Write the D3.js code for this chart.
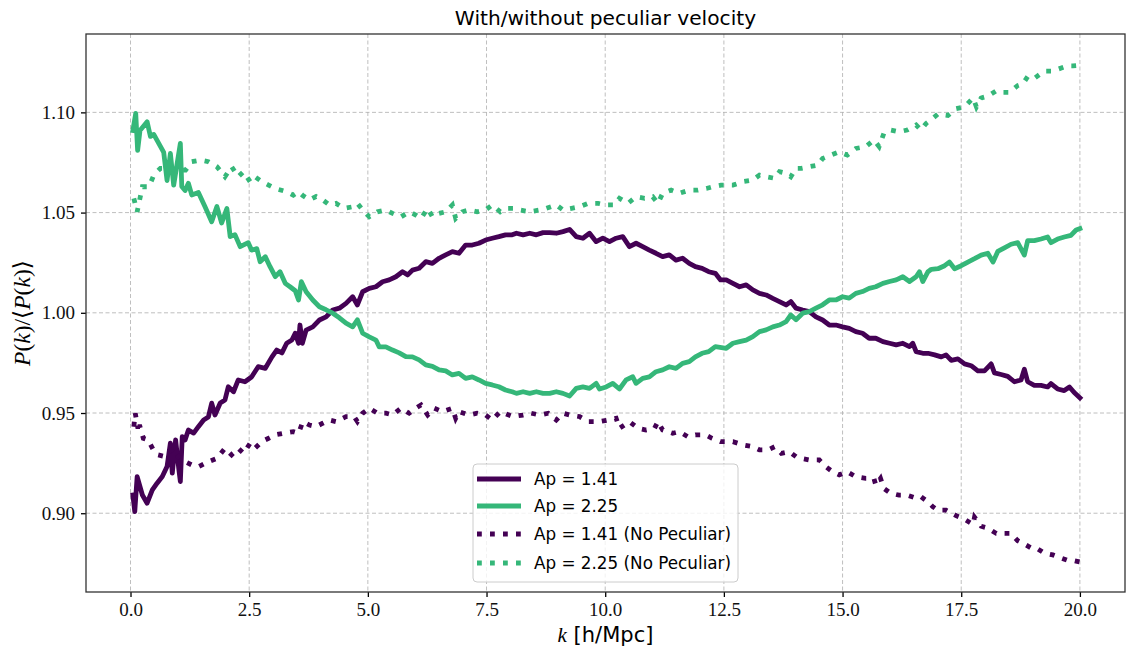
<!DOCTYPE html>
<html>
<head>
<meta charset="utf-8">
<script src="https://cdn.jsdelivr.net/npm/d3@7"></script>
<style>
  body { margin: 0; background: #fff; }
  svg { display: block; }
</style>
</head>
<body>
<div id="chart"></div>
<script>
// [k, P/<P>]
var ap141 = [
  [0.05,0.9091],[0.09,0.9008],[0.14,0.9183],[0.25,0.9091],[0.35,0.905],[0.46,0.9116],[0.56,0.915],[0.67,0.9183],
  [0.77,0.9233],[0.84,0.935],[0.88,0.92],[0.95,0.9366],[1.02,0.9216],[1.05,0.9158],[1.09,0.9382],[1.15,0.9366],
  [1.22,0.9415],[1.33,0.94],[1.43,0.9432],[1.54,0.9465],[1.64,0.948],[1.71,0.9549],[1.78,0.949],[1.89,0.955],
  [1.99,0.9565],[2.06,0.9631],[2.17,0.9606],[2.27,0.9665],[2.41,0.9656],[2.55,0.968],[2.69,0.9731],[2.84,0.9723],
  [2.98,0.978],[3.08,0.9814],[3.19,0.98],[3.29,0.9848],[3.4,0.9864],[3.47,0.9898],[3.54,0.9848],[3.57,0.9939],
  [3.62,0.9848],[3.7,0.9914],[3.84,0.993],[3.98,0.9964],[4.12,0.998],[4.26,1.0014],[4.4,1.0023],[4.54,1.0047],
  [4.68,1.008],[4.78,1.0039],[4.89,1.0105],[5.03,1.0122],[5.17,1.013],[5.31,1.0155],[5.45,1.0164],[5.59,1.018],
  [5.73,1.0205],[5.84,1.0189],[5.94,1.0213],[6.08,1.0222],[6.22,1.0255],[6.36,1.0247],[6.5,1.0272],[6.64,1.0289],
  [6.78,1.0305],[6.92,1.0297],[7.06,1.0338],[7.2,1.0338],[7.34,1.0347],[7.48,1.0363],[7.62,1.0372],[7.76,1.038],
  [7.9,1.0389],[8.04,1.0389],[8.13,1.0397],[8.27,1.0389],[8.41,1.0397],[8.55,1.0389],[8.69,1.04],[8.83,1.04],
  [8.97,1.0397],[9.11,1.0405],[9.25,1.0416],[9.39,1.038],[9.53,1.0372],[9.67,1.0397],[9.81,1.0355],[9.95,1.0372],
  [10.09,1.0355],[10.23,1.0372],[10.37,1.038],[10.51,1.033],[10.65,1.0347],[10.79,1.033],[10.93,1.0313],[11.07,1.0297],
  [11.21,1.028],[11.35,1.0289],[11.49,1.0263],[11.63,1.0272],[11.77,1.0247],[11.9,1.023],[12.04,1.0222],[12.18,1.0205],
  [12.32,1.0197],[12.43,1.0164],[12.55,1.0164],[12.69,1.0147],[12.83,1.013],[12.97,1.0139],[13.11,1.0114],[13.25,1.0097],
  [13.39,1.0089],[13.53,1.0072],[13.67,1.0056],[13.81,1.0039],[13.91,1.0056],[14.02,1.0023],[14.16,1.0014],[14.3,1.0006],
  [14.44,0.998],[14.58,0.9964],[14.72,0.9939],[14.86,0.9939],[15.0,0.993],[15.14,0.9922],[15.28,0.9906],[15.42,0.9898],
  [15.56,0.9873],[15.7,0.9873],[15.85,0.9856],[15.99,0.9848],[16.13,0.984],[16.27,0.9848],[16.41,0.9831],[16.48,0.9848],
  [16.55,0.9806],[16.69,0.9798],[16.8,0.9798],[16.94,0.979],[17.08,0.978],[17.18,0.979],[17.29,0.9763],[17.43,0.977],
  [17.57,0.9745],[17.71,0.9736],[17.85,0.971],[17.99,0.971],[18.13,0.9745],[18.2,0.97],[18.34,0.9692],[18.48,0.9683],
  [18.62,0.9656],[18.76,0.9665],[18.83,0.9718],[18.9,0.9656],[19.04,0.9638],[19.18,0.9638],[19.32,0.963],[19.39,0.9647],
  [19.53,0.962],[19.67,0.9612],[19.78,0.963],[19.88,0.9602],[20.0,0.9576]
];

var ap225 = [
  [0.05,1.091],[0.11,1.0995],[0.15,1.081],[0.2,1.091],[0.35,1.0953],[0.42,1.088],[0.49,1.089],[0.56,1.086],
  [0.63,1.083],[0.7,1.08],[0.77,1.066],[0.84,1.0795],[0.91,1.0637],[1.05,1.0845],[1.08,1.063],[1.15,1.061],
  [1.22,1.0646],[1.29,1.0588],[1.43,1.06],[1.57,1.0529],[1.71,1.0454],[1.82,1.053],[1.92,1.0448],[2.03,1.052],
  [2.1,1.038],[2.2,1.039],[2.31,1.033],[2.48,1.035],[2.55,1.0313],[2.66,1.032],[2.73,1.0255],[2.84,1.028],
  [2.94,1.023],[3.05,1.018],[3.15,1.0205],[3.26,1.0147],[3.36,1.013],[3.47,1.011],[3.54,1.0064],[3.6,1.0155],
  [3.7,1.0105],[3.84,1.0064],[3.98,1.003],[4.12,1.0015],[4.26,0.9998],[4.4,0.9975],[4.54,0.9948],[4.68,0.993],
  [4.78,0.9965],[4.89,0.9898],[5.03,0.988],[5.17,0.9864],[5.24,0.983],[5.38,0.983],[5.52,0.9814],[5.66,0.98],
  [5.8,0.9781],[5.94,0.978],[6.08,0.9765],[6.22,0.974],[6.36,0.9733],[6.5,0.9715],[6.64,0.971],[6.78,0.969],
  [6.92,0.9698],[7.06,0.9673],[7.2,0.968],[7.34,0.9665],[7.48,0.9648],[7.62,0.964],[7.76,0.9631],[7.9,0.9615],
  [8.04,0.9606],[8.13,0.9598],[8.27,0.9606],[8.41,0.9598],[8.55,0.9606],[8.69,0.9598],[8.83,0.9598],[8.97,0.9606],
  [9.11,0.9598],[9.25,0.9585],[9.39,0.9623],[9.53,0.963],[9.67,0.9623],[9.81,0.9648],[9.88,0.962],[10.02,0.963],
  [10.16,0.9648],[10.3,0.962],[10.44,0.9665],[10.58,0.9681],[10.65,0.9648],[10.79,0.9673],[10.93,0.968],[11.07,0.9706],
  [11.21,0.9715],[11.35,0.9731],[11.49,0.9723],[11.63,0.9748],[11.77,0.9756],[11.9,0.978],[12.04,0.9798],[12.18,0.9806],
  [12.32,0.9831],[12.55,0.9823],[12.69,0.9848],[12.83,0.9856],[12.97,0.9864],[13.11,0.9881],[13.25,0.9906],[13.39,0.9915],
  [13.53,0.993],[13.67,0.9939],[13.81,0.9956],[13.91,0.9989],[14.02,0.9965],[14.16,0.9998],[14.3,1.0006],[14.44,1.0023],
  [14.58,1.004],[14.72,1.0064],[14.86,1.0064],[15.0,1.008],[15.14,1.0073],[15.28,1.0097],[15.42,1.0106],[15.56,1.0122],
  [15.7,1.013],[15.85,1.0147],[15.99,1.0156],[16.13,1.0164],[16.27,1.018],[16.41,1.0156],[16.55,1.018],[16.62,1.0205],
  [16.69,1.0156],[16.8,1.0205],[16.87,1.0217],[17.01,1.022],[17.15,1.0235],[17.25,1.0253],[17.36,1.022],[17.5,1.0235],
  [17.64,1.0253],[17.78,1.027],[17.92,1.0288],[18.06,1.0297],[18.17,1.0253],[18.27,1.0306],[18.41,1.0324],[18.55,1.0342],
  [18.69,1.035],[18.83,1.0288],[18.9,1.036],[19.04,1.036],[19.18,1.0368],[19.32,1.0378],[19.39,1.035],[19.53,1.0368],
  [19.67,1.0378],[19.81,1.0386],[19.92,1.0413],[20.0,1.042]
];

var ap141NoPec = [
  [0.07,0.9432],[0.1,0.9499],[0.15,0.9432],[0.2,0.9432],[0.27,0.9374],[0.37,0.9366],[0.48,0.9316],[0.58,0.9291],
  [0.72,0.9283],[0.9,0.9324],[1.0,0.9283],[1.15,0.9257],[1.29,0.9241],[1.43,0.9232],[1.64,0.9257],[1.82,0.9274],
  [1.99,0.9324],[2.13,0.9291],[2.27,0.9324],[2.38,0.9299],[2.52,0.9349],[2.62,0.9324],[2.77,0.9358],[2.91,0.9374],
  [3.05,0.9391],[3.22,0.9399],[3.43,0.9407],[3.54,0.9399],[3.63,0.9457],[3.77,0.944],[3.91,0.9432],[4.05,0.9449],
  [4.19,0.9465],[4.33,0.9457],[4.54,0.9482],[4.71,0.9482],[4.78,0.9457],[4.89,0.9499],[5.03,0.9524],[5.2,0.9499],
  [5.38,0.9499],[5.52,0.949],[5.7,0.9524],[5.87,0.9499],[6.01,0.9524],[6.12,0.954],[6.26,0.949],[6.4,0.9524],
  [6.57,0.9507],[6.78,0.9524],[6.85,0.9474],[6.92,0.9507],[7.13,0.949],[7.3,0.9499],[7.48,0.949],[7.62,0.9465],
  [7.79,0.9507],[7.97,0.949],[8.06,0.9482],[8.27,0.949],[8.44,0.9499],[8.62,0.949],[8.8,0.9499],[8.97,0.9465],
  [9.11,0.9499],[9.25,0.949],[9.46,0.9482],[9.64,0.9457],[9.88,0.9457],[10.06,0.9465],[10.23,0.9474],[10.3,0.9424],
  [10.51,0.9457],[10.69,0.9424],[10.86,0.9415],[11.04,0.9424],[11.11,0.9457],[11.21,0.9415],[11.42,0.9399],[11.56,0.9407],
  [11.74,0.9382],[11.9,0.9391],[12.11,0.9391],[12.25,0.9374],[12.43,0.9357],[12.69,0.9357],[12.9,0.9341],[13.11,0.9332],
  [13.25,0.9316],[13.43,0.9316],[13.57,0.9332],[13.71,0.9299],[13.88,0.9307],[14.02,0.9282],[14.13,0.9274],[14.3,0.9266],
  [14.51,0.9266],[14.65,0.9232],[14.79,0.9207],[14.93,0.9191],[15.1,0.9207],[15.28,0.9182],[15.49,0.9174],[15.66,0.9174],
  [15.7,0.9141],[15.8,0.9174],[15.87,0.9124],[16.01,0.91],[16.19,0.909],[16.36,0.909],[16.55,0.9075],[16.65,0.9083],
  [16.79,0.9058],[16.9,0.9033],[17.01,0.9015],[17.18,0.9015],[17.39,0.8988],[17.57,0.897],[17.75,0.8944],[17.78,0.898],
  [17.92,0.8935],[18.06,0.8926],[18.24,0.8899],[18.41,0.8899],[18.55,0.8899],[18.69,0.8863],[18.83,0.8846],[18.97,0.8827],
  [19.08,0.8827],[19.25,0.8801],[19.43,0.8792],[19.53,0.8783],[19.74,0.8765],[19.85,0.8765],[20.0,0.8757]
];

var ap225NoPec = [
  [0.07,1.0571],[0.14,1.0504],[0.25,1.0629],[0.39,1.0629],[0.49,1.0687],[0.63,1.0721],[0.77,1.0721],[0.95,1.0712],
  [1.16,1.0712],[1.29,1.0754],[1.47,1.0762],[1.64,1.0754],[1.82,1.0729],[1.99,1.0679],[2.13,1.0729],[2.27,1.0679],
  [2.38,1.0704],[2.52,1.0654],[2.62,1.0679],[2.77,1.0654],[2.91,1.0637],[3.05,1.062],[3.29,1.0604],[3.43,1.0587],
  [3.54,1.0604],[3.63,1.0585],[3.77,1.0563],[3.91,1.058],[4.05,1.0563],[4.19,1.0538],[4.33,1.0546],[4.5,1.0521],
  [4.68,1.0529],[4.78,1.0546],[4.89,1.0513],[5.03,1.0479],[5.2,1.0504],[5.38,1.0513],[5.52,1.0496],[5.7,1.0479],
  [5.87,1.0504],[6.01,1.0488],[6.12,1.0471],[6.26,1.0521],[6.36,1.0479],[6.5,1.0496],[6.64,1.0504],[6.78,1.0538],
  [6.85,1.0471],[6.99,1.0504],[7.13,1.0513],[7.3,1.0504],[7.48,1.0513],[7.62,1.0538],[7.79,1.0504],[7.93,1.0521],
  [8.06,1.0521],[8.2,1.0513],[8.41,1.0504],[8.62,1.0513],[8.76,1.0521],[8.97,1.0538],[9.11,1.0513],[9.29,1.0521],
  [9.46,1.0529],[9.64,1.0546],[9.85,1.0546],[10.02,1.0538],[10.2,1.0538],[10.3,1.0571],[10.48,1.0546],[10.65,1.0579],
  [10.83,1.0571],[11.0,1.0579],[11.11,1.0546],[11.21,1.0596],[11.39,1.0612],[11.56,1.0596],[11.77,1.0612],[11.95,1.0612],
  [12.13,1.062],[12.27,1.0629],[12.44,1.0637],[12.69,1.0637],[12.9,1.0654],[13.11,1.0662],[13.25,1.0687],[13.39,1.0679],
  [13.57,1.0671],[13.67,1.0704],[13.81,1.0696],[13.91,1.0679],[14.02,1.0721],[14.13,1.0721],[14.3,1.0729],[14.48,1.0737],
  [14.58,1.077],[14.76,1.0787],[14.93,1.0803],[15.1,1.0787],[15.28,1.082],[15.49,1.0829],[15.66,1.0862],[15.77,1.0829],
  [15.87,1.0895],[16.01,1.0912],[16.19,1.0903],[16.36,1.0912],[16.55,1.0937],[16.65,1.0912],[16.76,1.0945],[16.86,1.0962],
  [17.01,1.0992],[17.22,1.0985],[17.39,1.1018],[17.57,1.1027],[17.75,1.1072],[17.82,1.1027],[17.92,1.1072],[18.06,1.1081],
  [18.24,1.1108],[18.38,1.11],[18.52,1.11],[18.69,1.1134],[18.8,1.1143],[18.9,1.1179],[19.04,1.117],[19.25,1.1206],
  [19.43,1.1206],[19.53,1.1215],[19.74,1.1232],[19.85,1.1232],[20.0,1.1235]
];

var seriesNames = ["Ap = 1.41", "Ap = 2.25", "Ap = 1.41 (No Peculiar)", "Ap = 2.25 (No Peculiar)"];
var xTicks = [0, 2.5, 5, 7.5, 10, 12.5, 15, 17.5, 20];
var yTicks = [0.90, 0.95, 1.00, 1.05, 1.10];

var purple = "#440154", green = "#35b779";
var series = [
  {name: seriesNames[0], data: ap141, color: purple, dash: null},
  {name: seriesNames[1], data: ap225, color: green, dash: null},
  {name: seriesNames[2], data: ap141NoPec, color: purple, dash: "4.8,8.2"},
  {name: seriesNames[3], data: ap225NoPec, color: green, dash: "4.8,8.2"}
];

var width = 1126, height = 655;
var mLeft = 86, mRight = 1125, mTop = 34, mBottom = 592;
var serif = "'Liberation Serif', 'DejaVu Serif', serif";
var sans = "'DejaVu Sans', 'Liberation Sans', sans-serif";

var svg = d3.select("#chart").append("svg")
    .attr("width", width)
    .attr("height", height);

var x = d3.scaleLinear().domain([-0.9375, 20.95]).range([mLeft, mRight]);
var y = d3.scaleLinear().domain([0.8607, 1.1391]).range([mBottom, mTop]);

// grid
var grid = svg.append("g");
grid.selectAll(".gx").data(xTicks).enter().append("line")
    .attr("x1", d => x(d)).attr("x2", d => x(d))
    .attr("y1", mTop).attr("y2", mBottom);
grid.selectAll(".gy").data(yTicks).enter().append("line")
    .attr("x1", mLeft).attr("x2", mRight)
    .attr("y1", d => y(d)).attr("y2", d => y(d));
grid.selectAll("line")
    .attr("stroke", "#b0b0b0")
    .attr("stroke-width", 1)
    .attr("stroke-dasharray", "4,2.5")
    .attr("opacity", 0.8);

// lines
var line = d3.line().x(d => x(d[0])).y(d => y(d[1]));
var lines = svg.append("g");
series.forEach(function(s) {
  var p = lines.append("path")
      .attr("d", line(s.data))
      .attr("fill", "none")
      .attr("stroke", s.color)
      .attr("stroke-width", 4.8);
  if (s.dash) {
    p.attr("stroke-dasharray", s.dash).attr("stroke-linecap", "butt");
  } else {
    p.attr("stroke-linejoin", "round").attr("stroke-linecap", "square");
  }
});

// axes
var xAxis = svg.append("g")
    .attr("transform", "translate(0," + mBottom + ")")
    .call(d3.axisBottom(x).tickValues(xTicks).tickFormat(d3.format(".1f")).tickSizeOuter(0).tickSize(5).tickPadding(6));
var yAxis = svg.append("g")
    .attr("transform", "translate(" + mLeft + ",0)")
    .call(d3.axisLeft(y).tickValues(yTicks).tickFormat(d3.format(".2f")).tickSizeOuter(0).tickSize(5).tickPadding(6));
[xAxis, yAxis].forEach(function(a) {
  a.select(".domain").remove();
  a.selectAll(".tick line").attr("stroke", "#000").attr("stroke-width", 1.3);
  a.selectAll(".tick text").attr("font-family", serif).attr("font-size", 19).attr("fill", "#111");
});

svg.append("rect")
    .attr("x", mLeft).attr("y", mTop)
    .attr("width", mRight - mLeft).attr("height", mBottom - mTop)
    .attr("fill", "none")
    .attr("stroke", "#333")
    .attr("stroke-width", 1.3);

// title and labels
svg.append("text")
    .attr("x", (mLeft + mRight) / 2).attr("y", 25)
    .attr("text-anchor", "middle")
    .attr("font-family", sans).attr("font-size", 20.2)
    .text("With/without peculiar velocity");

var xl = svg.append("text")
    .attr("x", (mLeft + mRight) / 2).attr("y", 642)
    .attr("text-anchor", "middle")
    .attr("font-size", 21);
xl.append("tspan").attr("font-family", serif).attr("font-style", "italic").text("k");
xl.append("tspan").attr("font-family", sans).text(" [h/Mpc]");

var yl = svg.append("text")
    .attr("transform", "translate(30," + ((mTop + mBottom) / 2) + ") rotate(-90)")
    .attr("text-anchor", "middle")
    .attr("font-family", serif)
    .attr("font-size", 23.5);
yl.append("tspan").attr("font-style", "italic").text("P");
yl.append("tspan").text("(");
yl.append("tspan").attr("font-style", "italic").text("k");
yl.append("tspan").text(")/\u27E8");
yl.append("tspan").attr("font-style", "italic").text("P");
yl.append("tspan").text("(");
yl.append("tspan").attr("font-style", "italic").text("k");
yl.append("tspan").text(")\u27E9");

// legend
var lg = svg.append("g");
lg.append("rect")
    .attr("x", 473).attr("y", 464)
    .attr("width", 265).attr("height", 118)
    .attr("rx", 4)
    .attr("fill", "#fff").attr("fill-opacity", 0.8)
    .attr("stroke", "#ccc").attr("stroke-width", 1);
var rowY = [479, 506, 534, 563];
series.forEach(function(s, i) {
  var h = lg.append("line")
      .attr("x1", 477).attr("x2", 521)
      .attr("y1", rowY[i]).attr("y2", rowY[i])
      .attr("stroke", s.color).attr("stroke-width", 4.8);
  if (s.dash) h.attr("stroke-dasharray", s.dash);
  lg.append("text")
      .attr("x", 534).attr("y", rowY[i] + 6)
      .attr("font-family", sans).attr("font-size", 16.8)
      .text(s.name);
});
</script>
</body>
</html>
